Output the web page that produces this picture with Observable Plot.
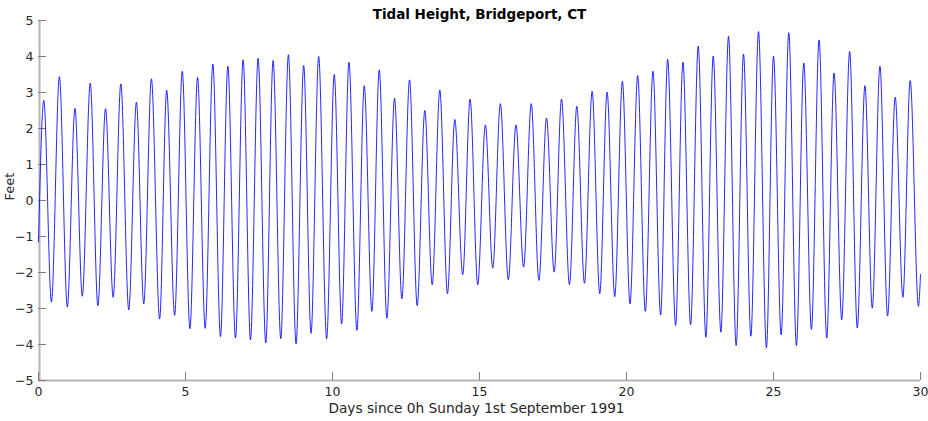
<!DOCTYPE html>
<html><head><meta charset="utf-8">
<script src="https://cdn.jsdelivr.net/npm/d3@7"></script>
<script src="https://cdn.jsdelivr.net/npm/@observablehq/plot@0.6"></script>
<style>html,body{margin:0;padding:0;background:#fff} svg{display:block}</style>
</head><body><div id="chart"></div>
<script>
const title = "Tidal Height, Bridgeport, CT";
const xLabel = "Days since 0h Sunday 1st September 1991";
const yLabel = "Feet";
const xTicks = [0, 5, 10, 15, 20, 25, 30];
const yTicks = [-5, -4, -3, -2, -1, 0, 1, 2, 3, 4, 5];

// times (days) of successive high / low waters
const days = [0, 0.18, 0.44, 0.71, 0.98, 1.24, 1.49, 1.76, 2.02, 2.28, 2.54, 2.80, 3.07, 3.33, 3.58, 3.84, 4.12, 4.36, 4.63, 4.89,
  5.15, 5.41, 5.67, 5.93, 6.19, 6.44, 6.70, 6.96, 7.21, 7.47, 7.73, 7.98, 8.24, 8.50, 8.76, 9.02, 9.27, 9.53, 9.80,
  10.06, 10.31, 10.56, 10.83, 11.08, 11.34, 11.59, 11.85, 12.11, 12.36, 12.62, 12.88, 13.14, 13.39, 13.65, 13.91,
  14.16, 14.43, 14.68, 14.94, 15.20, 15.45, 15.71, 15.98, 16.24, 16.50, 16.76, 17.02, 17.28, 17.54, 17.79, 18.06,
  18.31, 18.57, 18.83, 19.09, 19.34, 19.60, 19.86, 20.12, 20.38, 20.64, 20.90, 21.16, 21.40, 21.67, 21.92, 22.18,
  22.44, 22.70, 22.95, 23.21, 23.47, 23.73, 23.98, 24.23, 24.49, 24.76, 25.00, 25.26, 25.52, 25.78, 26.03, 26.29,
  26.55, 26.81, 27.06, 27.32, 27.59, 27.85, 28.11, 28.36, 28.62, 28.88, 29.14, 29.40, 29.65, 29.93, 30];
// heights (feet) at those times
const feet = [-1.15, 2.78, -2.82, 3.44, -2.96, 2.56, -2.66, 3.26, -2.92, 2.55, -2.69, 3.24, -3.04, 2.73, -2.87, 3.38, -3.29, 3.06, -3.19, 3.59,
  -3.56, 3.42, -3.55, 3.79, -3.78, 3.73, -3.82, 3.91, -3.87, 3.95, -3.96, 3.89, -3.84, 4.05, -3.98, 3.75, -3.69, 4.00, -3.84,
  3.50, -3.43, 3.84, -3.61, 3.19, -3.08, 3.63, -3.27, 2.84, -2.73, 3.35, -2.92, 2.50, -2.34, 3.07, -2.59,
  2.25, -2.06, 2.82, -2.34, 2.10, -1.88, 2.69, -2.20, 2.10, -1.85, 2.69, -2.22, 2.29, -1.99, 2.82, -2.34,
  2.62, -2.30, 3.03, -2.59, 3.01, -2.67, 3.31, -2.87, 3.47, -3.08, 3.59, -3.18, 3.92, -3.47, 3.84, -3.45,
  4.29, -3.80, 4.01, -3.66, 4.56, -4.03, 4.07, -3.77, 4.69, -4.09, 4.01, -3.73, 4.66, -4.03, 3.82, -3.58,
  4.46, -3.82, 3.54, -3.31, 4.14, -3.54, 3.19, -2.99, 3.73, -3.21, 2.87, -2.69, 3.33, -2.94, -2.06];

const tide = days.map((d, i) => ({day: d, feet: feet[i]}));

const W = 928, H = 421, mL = 38, mR = 8, mT = 20, mB = 41;
const plot = Plot.plot({
  width: W, height: H,
  marginLeft: mL, marginRight: mR, marginTop: mT, marginBottom: mB,
  style: {fontFamily: "DejaVu Sans", fontSize: "12.5px", background: "#fff", color: "#262626"},
  x: {domain: [0, 30], ticks: xTicks, tickSize: 0, tickPadding: 7, label: null},
  y: {domain: [-5, 5], ticks: yTicks, tickSize: 0, tickPadding: 5, label: null},
  marks: [
    Plot.ruleX([0], {stroke: "#b4b4b4", strokeWidth: 2, dx: 1}),
    Plot.ruleY([-5], {stroke: "#b4b4b4", strokeWidth: 2}),
    Plot.tickX(xTicks, {x: d => d, stroke: "#808080", insetTop: H - mT - mB - 8}),
    Plot.tickY(yTicks, {y: d => d, stroke: "#808080", insetRight: W - mL - mR - 8}),
    Plot.line(tide, {x: "day", y: "feet", stroke: "blue", strokeWidth: 0.85, curve: "monotone-x"}),
    Plot.text([title], {text: d => d, frameAnchor: "top", dy: -11, fontWeight: "bold", fontSize: 13.5, fill: "#000"}),
    Plot.text([xLabel], {text: d => d, frameAnchor: "bottom", dx: -3, dy: 32, fontSize: 13.7, fill: "#262626"}),
    Plot.text([yLabel], {text: d => d, frameAnchor: "left", rotate: -90, dx: -29, fontSize: 13, fill: "#262626"})
  ]
});
document.getElementById("chart").appendChild(plot);
</script>
</body></html>
